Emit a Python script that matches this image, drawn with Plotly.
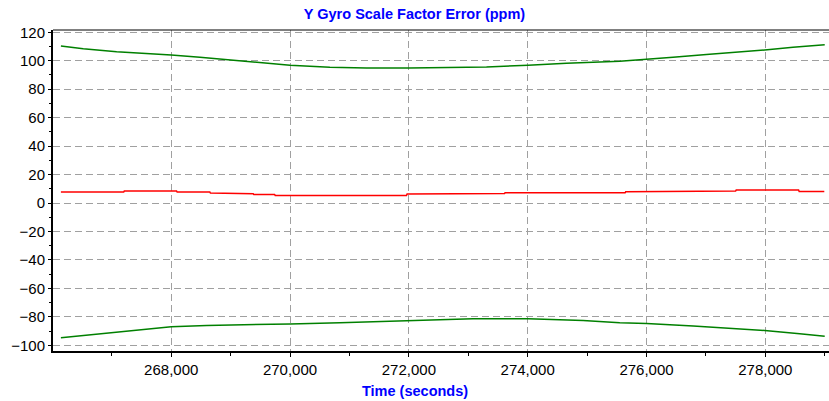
import plotly.graph_objects as go

# Upper bound (green)
upper_t = [266143, 266519, 267081, 267642, 268000, 268483, 269043, 269605, 270000, 270670,
           271288, 272000, 272521, 273307, 274007, 274653, 275550, 276000, 276447, 277009,
           277570, 277990, 278466, 279000]
upper_v = [110.4, 108.5, 106.4, 105.3, 104.1, 102.5, 100.4, 98.2, 96.8, 95.4,
           94.9, 94.9, 95.1, 95.6, 96.8, 98.2, 99.6, 100.8, 102.5, 104.3,
           106.0, 107.6, 109.5, 111.3]

# Lower bound (green)
lower_t = [266143, 266800, 267361, 268000, 268596, 269324, 269800, 270000, 270838, 271343,
           272000, 272521, 273080, 274007, 274372, 274932, 275550, 276000, 276786, 277346,
           277990, 278579, 279000]
lower_v = [-94.6, -91.9, -89.8, -86.9, -86.0, -85.7, -85.3, -85.0, -84.1, -83.4,
           -82.4, -81.8, -81.4, -81.4, -81.7, -82.6, -84.1, -84.6, -86.4, -87.9,
           -89.6, -91.9, -93.6]

# Estimate (red)
est_t = [266143, 267200, 267210, 268090, 268100, 268650, 268660, 269070, 269080, 269380,
         269390, 269740, 269750, 271960, 271970, 272570, 272580, 273610, 273620, 275640,
         275650, 276300, 276310, 277500, 277510, 278560, 278570, 278993]
est_v = [7.7, 7.7, 8.4, 8.4, 7.7, 7.7, 7.0, 7.0, 6.5, 6.5,
         6.0, 6.0, 5.3, 5.3, 6.3, 6.3, 6.7, 6.7, 7.2, 7.2,
         7.9, 7.9, 8.4, 8.4, 9.1, 9.1, 8.1, 8.1]

title_text = "Y Gyro Scale Factor Error (ppm)"
xtitle_text = "Time (seconds)"
y_ticks = [-100, -80, -60, -40, -20, 0, 20, 40, 60, 80, 100, 120]
x_ticks = [268000, 270000, 272000, 274000, 276000, 278000]

FONT = "Liberation Sans, Arial, sans-serif"
GRID = "#a0a0a0"

fig = go.Figure()
fig.add_trace(go.Scatter(x=upper_t, y=upper_v, mode="lines",
                         line=dict(color="#008000", width=1.5), showlegend=False))
fig.add_trace(go.Scatter(x=lower_t, y=lower_v, mode="lines",
                         line=dict(color="#008000", width=1.5), showlegend=False))
fig.add_trace(go.Scatter(x=est_t, y=est_v, mode="lines",
                         line=dict(color="#ff0000", width=1.5), showlegend=False))

fig.update_layout(
    width=829, height=401,
    margin=dict(l=53, r=0, t=30, b=50),
    paper_bgcolor="white", plot_bgcolor="white",
    font=dict(family=FONT, color="black", size=15),
    title=dict(text="<b>" + title_text + "</b>", x=0.5, xref="container", xanchor="center",
               y=1, yref="container", yanchor="top", pad=dict(t=9),
               font=dict(family=FONT, size=14.5, color="#0000ff")),
    annotations=[dict(text="<b>" + xtitle_text + "</b>", xref="paper", yref="paper",
                      x=(414.5 - 53) / 776, y=-0.093, xanchor="center", yanchor="top",
                      showarrow=False, font=dict(family=FONT, size=14.5, color="#0000ff"))],
    shapes=[dict(type="line", xref="paper", yref="paper", x0=0, x1=1, y0=1, y1=1,
                 line=dict(color="black", width=1))],
)

fig.update_xaxes(
    range=[266010, 279072], automargin=False,
    tickvals=x_ticks, ticktext=[f"{v:,}" for v in x_ticks],
    showgrid=True, gridcolor=GRID, griddash="7px,4px", gridwidth=1,
    showline=True, linecolor="black", linewidth=2,
    ticks="outside", ticklen=4, tickcolor="black", tickwidth=1,
    minor=dict(dtick=1000, tick0=266000, ticks="outside", ticklen=3, tickcolor="black", showgrid=False),
    zeroline=False,
    tickfont=dict(size=15),
)
fig.update_yaxes(
    range=[-104, 121.6], automargin=False,
    tickvals=y_ticks,
    showgrid=True, gridcolor=GRID, griddash="7px,4px", gridwidth=1,
    showline=True, linecolor="black", linewidth=2,
    ticks="outside", ticklen=3, tickcolor="black", tickwidth=1,
    minor=dict(dtick=10, tick0=0, ticks="outside", ticklen=2, tickcolor="black", showgrid=False),
    zeroline=False,
    tickfont=dict(size=15),
)

fig.write_html("out.html", config={"displayModeBar": False},
               post_script="document.body.style.margin='0';document.body.style.overflow='hidden';")
